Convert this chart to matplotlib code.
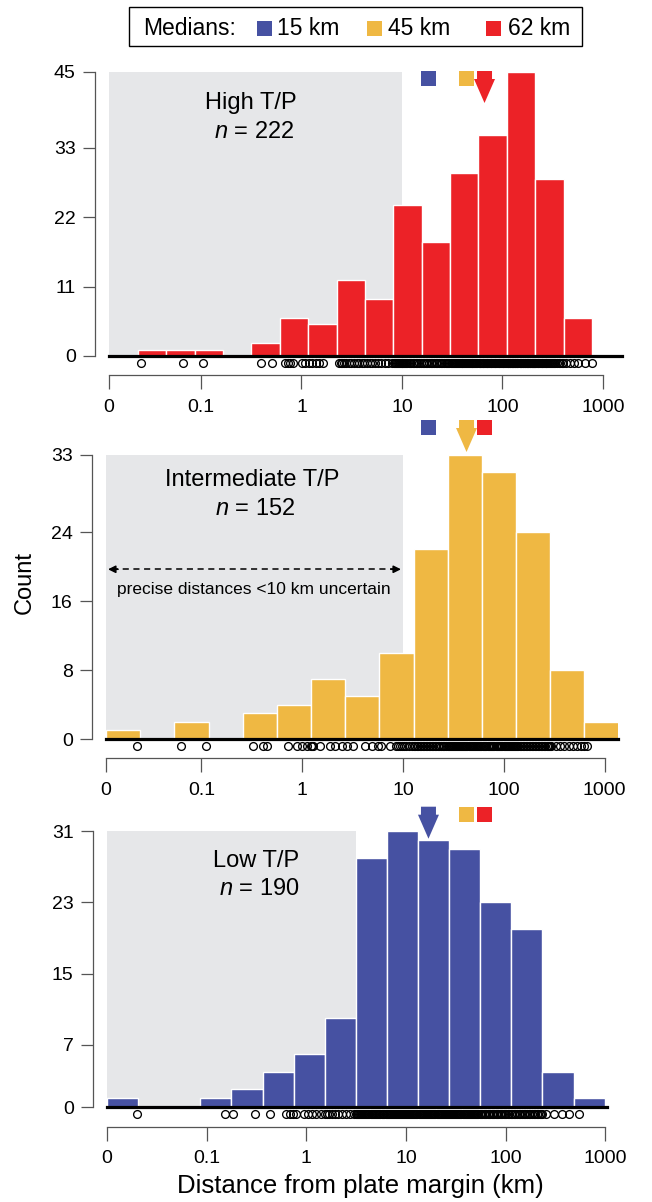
import numpy as np
import matplotlib
matplotlib.use('Agg')
import matplotlib.pyplot as plt
from matplotlib.patches import Rectangle, Polygon
from matplotlib.transforms import IdentityTransform, ScaledTranslation

plt.rcParams['font.family'] = ['Liberation Sans', 'DejaVu Sans']
plt.rcParams['mathtext.fontset'] = 'custom'
plt.rcParams['mathtext.it'] = 'Liberation Sans:italic'
plt.rcParams['mathtext.rm'] = 'Liberation Sans'

W, H = 652, 1202

# x axis is log10(distance in km); "0" sits at the left end of each panel
tick_km = [0.1, 1, 10, 100, 1000]
tick_labels = ['0', '0.1', '1', '10', '100', '1000']

names = ['High T/P', 'Intermediate T/P', 'Low T/P']
n_obs = [222, 152, 190]
colors = ['#ec2227', '#efb843', '#4651a2']

legend_km = [15, 45, 62]
legend_colors = ['#4651a2', '#efb843', '#ec2227']
# where the median markers sit along the (middle panel) axis
marker_km = [17.9, 42.7, 64.4]
panel_median = [2, 1, 0]     # which median belongs to which panel

zero_pos = [-1.915, -1.946, -2.0]
x_right = [3.19, 3.133, 3.016]
gray_end_km = [10, 10, 3.16]

bin_start = [-1.627, -1.946, -2.0]
bin_width = [0.2824, 0.339, 0.312]
counts_high = [1, 1, 1, 0, 2, 6, 5, 12, 9, 24, 18, 29, 35, 45, 28, 6]
counts_mid = [1, 0, 2, 0, 3, 4, 7, 5, 10, 22, 33, 31, 24, 8, 2]
counts_low = [1, 0, 0, 1, 2, 4, 6, 10, 28, 31, 30, 29, 23, 20, 4, 1]
counts = [counts_high, counts_mid, counts_low]

ymax = [45, 33, 31]
yticks = [[0, 11, 22, 33, 45], [0, 8, 16, 24, 33], [0, 7, 15, 23, 31]]

# rug of individual sites, log10(km)
rug_high = [-1.60, -1.18, -0.98, -0.40, -0.29,
            -0.16, -0.13, -0.11, -0.08, 0.01, 0.04,
            0.08, 0.11, 0.14, 0.17, 0.21,
            0.37, 0.39, 0.40, 0.42, 0.44, 0.47, 0.49, 0.52, 0.55, 0.57, 0.60, 0.62,
            0.65, 0.68, 0.70, 0.73, 0.76, 0.79, 0.83, 0.86, 0.90,
            0.92, 0.93, 0.94, 0.95, 0.96, 0.97, 0.98, 0.99, 1.00, 1.00, 1.01, 1.02,
            1.03, 1.04, 1.05, 1.07, 1.08, 1.09, 1.11, 1.12, 1.14, 1.15, 1.17, 1.19,
            1.21, 1.22, 1.24, 1.25, 1.27, 1.29, 1.30, 1.32, 1.34, 1.35, 1.37, 1.39,
            1.40, 1.42, 1.44, 1.45, 1.46, 1.47,
            1.49, 1.50, 1.51, 1.52, 1.53, 1.54, 1.55, 1.56, 1.57, 1.58, 1.59, 1.60,
            1.60, 1.61, 1.62, 1.63, 1.64, 1.65, 1.66, 1.67, 1.68, 1.69, 1.70, 1.70,
            1.71, 1.72, 1.73, 1.74, 1.75,
            1.77, 1.78, 1.78, 1.79, 1.80, 1.81, 1.81, 1.82, 1.83, 1.84, 1.85, 1.85,
            1.86, 1.87, 1.88, 1.89, 1.89, 1.90, 1.91, 1.92, 1.93, 1.93, 1.94, 1.95,
            1.96, 1.97, 1.97, 1.98, 1.99, 2.00, 2.01, 2.01, 2.02, 2.03, 2.04,
            2.05, 2.06, 2.06, 2.07, 2.08, 2.08, 2.09, 2.10, 2.10, 2.11, 2.11, 2.12,
            2.13, 2.13, 2.14, 2.15, 2.15, 2.16, 2.17, 2.17, 2.18, 2.18, 2.19, 2.20,
            2.20, 2.21, 2.22, 2.22, 2.23, 2.24, 2.24, 2.25, 2.25, 2.26, 2.27, 2.27,
            2.28, 2.29, 2.29, 2.30, 2.30, 2.31, 2.31, 2.32, 2.32,
            2.33, 2.34, 2.35, 2.35, 2.36, 2.37, 2.38, 2.39, 2.39, 2.40, 2.41, 2.42,
            2.43, 2.43, 2.44, 2.45, 2.46, 2.47, 2.48, 2.49, 2.50, 2.51, 2.52, 2.54,
            2.56, 2.57, 2.59, 2.60,
            2.63, 2.67, 2.71, 2.75, 2.82, 2.89]
rug_mid = [-1.64, -1.20, -0.95, -0.49, -0.39, -0.35,
           -0.14, -0.05, 0.00, 0.05,
           0.09, 0.10, 0.11, 0.18, 0.28, 0.33, 0.40,
           0.44, 0.50, 0.62, 0.69, 0.75,
           0.78, 0.87, 0.93, 0.95, 0.97, 0.99, 1.01, 1.03, 1.06, 1.09,
           1.11, 1.12, 1.14, 1.15, 1.17, 1.18, 1.20, 1.21, 1.23, 1.24, 1.26, 1.27,
           1.29, 1.30, 1.32, 1.33, 1.35, 1.36, 1.38, 1.40, 1.41, 1.43,
           1.45, 1.46, 1.47, 1.48, 1.49, 1.50, 1.51, 1.52, 1.53, 1.54, 1.55, 1.56,
           1.57, 1.58, 1.59, 1.60, 1.61, 1.62, 1.63, 1.64, 1.65, 1.66, 1.67, 1.68,
           1.69, 1.70, 1.71, 1.72, 1.73, 1.74, 1.75, 1.76, 1.77,
           1.79, 1.80, 1.81, 1.82, 1.84, 1.85, 1.86, 1.87, 1.88, 1.89, 1.90, 1.92,
           1.93, 1.94, 1.95, 1.96, 1.97, 1.98, 2.00, 2.01, 2.02, 2.03, 2.04, 2.05,
           2.06, 2.07, 2.08, 2.09, 2.10, 2.11, 2.12,
           2.13, 2.14, 2.16, 2.17, 2.19, 2.20, 2.22, 2.23, 2.25, 2.26, 2.28, 2.29,
           2.31, 2.32, 2.34, 2.35, 2.37, 2.38, 2.40, 2.41, 2.43, 2.44, 2.45, 2.46,
           2.47, 2.52, 2.56, 2.60, 2.65, 2.69, 2.73, 2.77,
           2.80, 2.83]
rug_low = [-1.70, -0.82, -0.74, -0.52,
           -0.36, -0.20, -0.16, -0.13,
           -0.10, -0.02, 0.02, 0.06, 0.10, 0.15,
           0.19, 0.21, 0.23, 0.26, 0.29, 0.32, 0.36, 0.40, 0.44, 0.48,
           0.50, 0.51, 0.52, 0.53, 0.54, 0.55, 0.56, 0.57, 0.58, 0.59, 0.60, 0.61,
           0.62, 0.63, 0.65, 0.66, 0.67, 0.68, 0.69, 0.70, 0.71, 0.72, 0.73, 0.74,
           0.76, 0.77, 0.78, 0.80,
           0.81, 0.82, 0.83, 0.84, 0.85, 0.86, 0.87, 0.88, 0.89, 0.90, 0.91, 0.92,
           0.93, 0.94, 0.95, 0.96, 0.97, 0.98, 0.99, 1.00, 1.01, 1.02, 1.03, 1.04,
           1.05, 1.06, 1.07, 1.08, 1.09, 1.10, 1.11,
           1.13, 1.14, 1.15, 1.16, 1.17, 1.18, 1.19, 1.20, 1.21, 1.22, 1.23, 1.24,
           1.25, 1.26, 1.27, 1.28, 1.29, 1.31, 1.32, 1.33, 1.34, 1.35, 1.36, 1.37,
           1.38, 1.39, 1.40, 1.41, 1.42, 1.43,
           1.44, 1.45, 1.46, 1.47, 1.48, 1.49, 1.50, 1.51, 1.52, 1.53, 1.54, 1.55,
           1.57, 1.58, 1.59, 1.60, 1.61, 1.62, 1.63, 1.64, 1.65, 1.66, 1.67, 1.68,
           1.69, 1.70, 1.71, 1.72, 1.74,
           1.75, 1.76, 1.78, 1.79, 1.80, 1.82, 1.83, 1.84, 1.86, 1.87, 1.88, 1.90,
           1.91, 1.92, 1.94, 1.95, 1.96, 1.98, 1.99, 2.00, 2.02, 2.03, 2.05,
           2.06, 2.08, 2.09, 2.11, 2.13, 2.14, 2.16, 2.18, 2.19, 2.21, 2.23, 2.24,
           2.26, 2.28, 2.29, 2.31, 2.32, 2.34, 2.35, 2.36,
           2.40, 2.48, 2.56, 2.63,
           2.74]
rugs = [rug_high, rug_mid, rug_low]

# panel placement in pixels: left, right, y of 0, y of top tick
layout = [(109, 622, 356, 72), (106, 618, 739, 454.7), (107, 607, 1107.3, 831)]
marker_top = [71, 420, 806.7]
title_frac = [0.89, 0.91, 0.89]

gray = '#e6e7e9'
spine_col = '#555555'

fig = plt.figure(figsize=(W / 100, H / 100), dpi=100)


def median_marker(xc, ytop, color, arrow):
    top = H - ytop
    if arrow:
        pts = [(xc - 7.5, top), (xc + 7.5, top), (xc + 7.5, top - 8), (xc + 10.5, top - 8),
               (xc, top - 32), (xc - 10.5, top - 8), (xc - 7.5, top - 8)]
        fig.add_artist(Polygon(pts, closed=True, fc=color, ec='none', transform=IdentityTransform()))
    else:
        fig.add_artist(Rectangle((xc - 7.5, top - 15), 15, 15, fc=color, ec='none',
                                 transform=IdentityTransform()))


axes = []
for i in range(3):
    left, right, y0, ytop = layout[i]
    ax = fig.add_axes([left / W, 1 - y0 / H, (right - left) / W, (y0 - ytop) / H])
    ax.set_xlim(zero_pos[i], x_right[i])
    ax.set_ylim(0, ymax[i])
    ax.patch.set_visible(False)
    axes.append(ax)

for i, ax in enumerate(axes):
    ax.add_patch(Rectangle((zero_pos[i], 0), np.log10(gray_end_km[i]) - zero_pos[i], ymax[i],
                           fc=gray, ec='none', zorder=0))

    edges = bin_start[i] + bin_width[i] * np.arange(len(counts[i]))
    ax.bar(edges, counts[i], width=bin_width[i], align='edge', color=colors[i],
           edgecolor='white', linewidth=1.0, zorder=2)
    ax.axhline(0, color='black', lw=2.3, zorder=4, clip_on=False)

    off = ax.transData + ScaledTranslation(0, -6.7 / 100, fig.dpi_scale_trans)
    ax.plot(rugs[i], np.zeros(len(rugs[i])), 'o', mfc='none', mec='black', ms=5.6, mew=0.95,
            transform=off, clip_on=False, zorder=5)

    for s in ['top', 'right']:
        ax.spines[s].set_visible(False)
    ax.spines['left'].set_position(('outward', 10))
    ax.spines['left'].set_bounds(0, ymax[i])
    ax.spines['bottom'].set_position(('outward', 14))
    ax.spines['bottom'].set_bounds(zero_pos[i], 3)
    for s in ['left', 'bottom']:
        ax.spines[s].set_color(spine_col)
        ax.spines[s].set_linewidth(0.9)

    ax.set_yticks(yticks[i])
    ax.set_xticks([zero_pos[i]] + list(np.log10(tick_km)))
    ax.set_xticklabels(tick_labels)
    ax.tick_params(axis='y', direction='out', length=9, width=0.9, color=spine_col,
                   labelsize=14, pad=5)
    ax.tick_params(axis='x', direction='out', length=10, width=0.9, color=spine_col,
                   labelsize=14, pad=7)

    ax.text(-0.5, title_frac[i] * ymax[i], names[i], ha='center', va='center', fontsize=17)
    ax.text(-0.47, (title_frac[i] - 0.10) * ymax[i], r'$n$ = %d' % n_obs[i],
            ha='center', va='center', fontsize=17)

    if i == 1:
        ya = 19.7
        ax.plot([zero_pos[i] + 0.06, 0.94], [ya, ya], color='black', lw=1.1,
                ls=(0, (4, 3)), zorder=3)
        for xa, xb in [(zero_pos[i] + 0.02, zero_pos[i] + 0.12), (0.98, 0.88)]:
            ax.annotate('', xy=(xa, ya), xytext=(xb, ya),
                        arrowprops=dict(arrowstyle='-|>', color='black', lw=1.1,
                                        mutation_scale=11, shrinkA=0, shrinkB=0))
        ax.text(-0.48, 17.3, 'precise distances <10 km uncertain', ha='center',
                va='center', fontsize=12.5)

    for j in range(3):
        xc = axes[1].transData.transform((np.log10(marker_km[j]), 0))[0]
        median_marker(xc, marker_top[i], legend_colors[j], j == panel_median[i])

# legend box for medians
fig.add_artist(Rectangle((129, H - 46), 453, 39, fc='white', ec='black', lw=1.0,
                         transform=IdentityTransform()))
fig.text(143 / W, 1 - 35 / H, 'Medians:', ha='left', va='baseline', fontsize=16.5)
sq_left = [256.7, 366.7, 486]
txt_left = [277, 388, 508]
for j in range(3):
    fig.add_artist(Rectangle((sq_left[j], H - 35.7), 15, 15, fc=legend_colors[j], ec='none',
                             transform=IdentityTransform()))
    fig.text(txt_left[j] / W, 1 - 35 / H, '%d km' % legend_km[j], ha='left',
             va='baseline', fontsize=16.5)

fig.text(25 / W, 1 - 583 / H, 'Count', rotation=90, ha='center', va='center', fontsize=17)
fig.text(360 / W, 1 - 1186 / H, 'Distance from plate margin (km)', ha='center',
         va='center', fontsize=18.5)

fig.savefig('out.png', dpi=100)
